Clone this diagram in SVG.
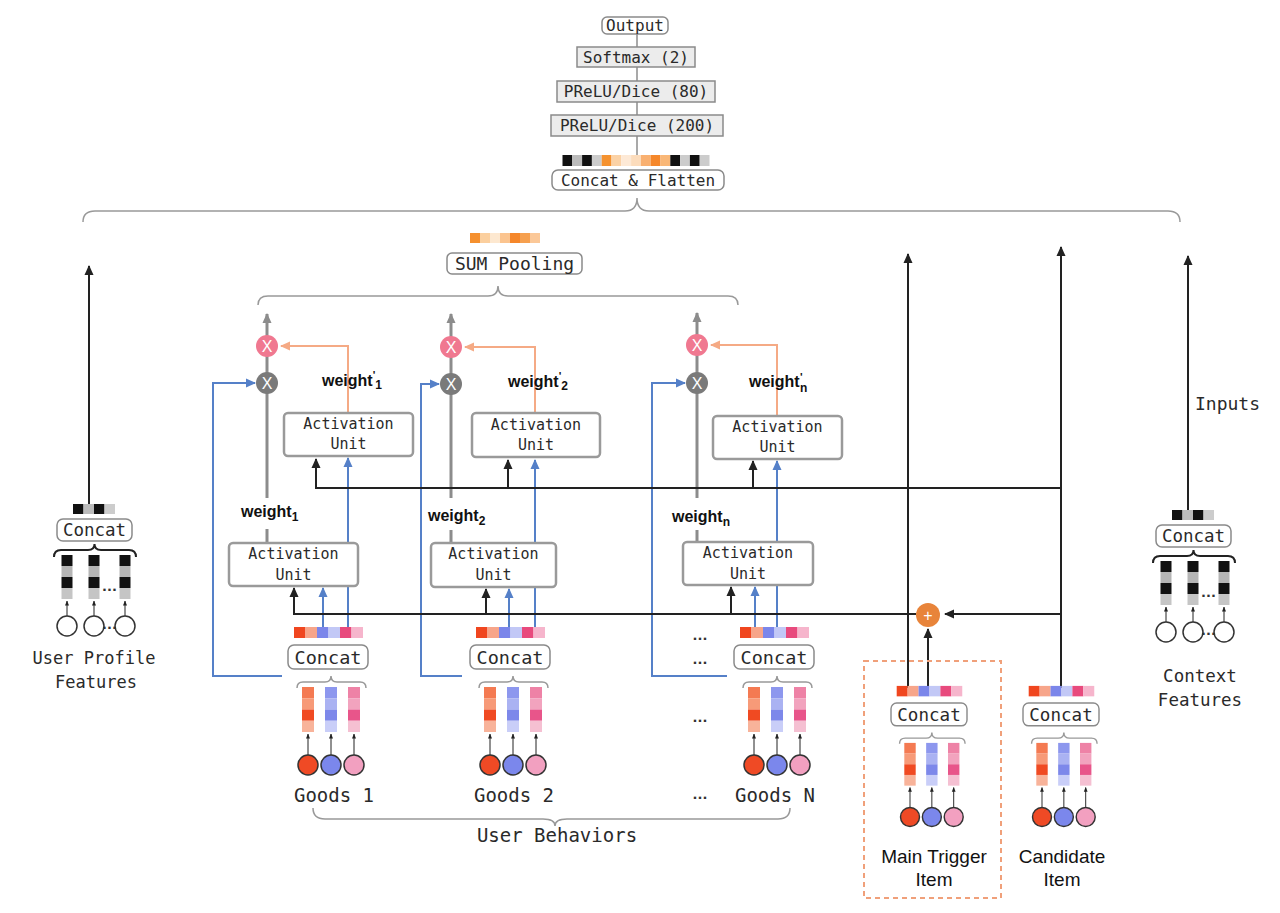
<svg xmlns="http://www.w3.org/2000/svg" width="1280" height="913" viewBox="0 0 1280 913">
<defs>
<style>
.mono{font-family:"DejaVu Sans Mono","Liberation Mono",monospace;fill:#2a2a2a}
.hand{font-family:"Liberation Sans","DejaVu Sans",sans-serif;fill:#111}
.box{fill:#fff;stroke:#8a8a8a;stroke-width:1.5}
.gbox{fill:#ececec;stroke:#8a8a8a;stroke-width:1.5}
.au{fill:#fff;stroke:#9a9a9a;stroke-width:2.5}
.blk{stroke:#222;stroke-width:2;fill:none}
.blu{stroke:#5580c8;stroke-width:2;fill:none}
.org{stroke:#f5aa85;stroke-width:2;fill:none}
.gry{stroke:#8c8c8c;stroke-width:3;fill:none}
.gthin{stroke:#8c8c8c;stroke-width:1.5;fill:none}
.thin{stroke:#222;stroke-width:1;fill:none}
.brace{stroke:#999;stroke-width:1.5;fill:none}
.dbrace{stroke:#222;stroke-width:2;fill:none}
.dot{font-family:"DejaVu Sans",sans-serif;font-size:13px;font-weight:bold;fill:#333}
.xw{font-family:"Liberation Sans",sans-serif;font-size:16px;fill:#fff}
</style>
<marker id="mb" viewBox="0 0 10 10" refX="9" refY="5" markerWidth="5" markerHeight="5" orient="auto"><path d="M0,0.5 L10,5 L0,9.5 z" fill="#222"/></marker>
<marker id="mbl" viewBox="0 0 10 10" refX="9" refY="5" markerWidth="5" markerHeight="5" orient="auto"><path d="M0,0.5 L10,5 L0,9.5 z" fill="#5580c8"/></marker>
<marker id="mo" viewBox="0 0 10 10" refX="9" refY="5" markerWidth="5" markerHeight="5" orient="auto"><path d="M0,0.5 L10,5 L0,9.5 z" fill="#f5aa85"/></marker>
<marker id="mg" viewBox="0 0 10 10" refX="9" refY="5" markerWidth="3.5" markerHeight="3.5" orient="auto"><path d="M0,0.5 L10,5 L0,9.5 z" fill="#8c8c8c"/></marker>
<marker id="ms" viewBox="0 0 10 10" refX="9" refY="5" markerWidth="5" markerHeight="5" orient="auto"><path d="M0,1 L10,5 L0,9 z" fill="#222"/></marker>
<g id="tpl-item">
 <rect x="6" y="-18" width="11.5" height="11" fill="#f0461f"/>
 <rect x="17.5" y="-18" width="11.5" height="11" fill="#f7a58a"/>
 <rect x="29" y="-18" width="11.5" height="11" fill="#7b86ea"/>
 <rect x="40.5" y="-18" width="11.5" height="11" fill="#c2c8f6"/>
 <rect x="52" y="-18" width="11.5" height="11" fill="#e84a7d"/>
 <rect x="63.5" y="-18" width="11.5" height="11" fill="#f6b5cc"/>
 <rect class="box" x="0" y="0" width="80" height="24" rx="6"/>
 <text class="mono" x="40" y="18.5" font-size="18.5" text-anchor="middle">Concat</text>
 <path class="brace" d="M9,43 Q9,37 15,37 L37,37 Q43,37 43,31 Q43,37 49,37 L72,37 Q78,37 78,43"/>
 <rect x="14" y="42" width="12" height="11.25" fill="#f47a52"/>
 <rect x="14" y="53.25" width="12" height="11.25" fill="#f79a78"/>
 <rect x="14" y="64.5" width="12" height="11.25" fill="#f04a22"/>
 <rect x="14" y="75.75" width="12" height="11.25" fill="#f8b39a"/>
 <rect x="37" y="42" width="12" height="11.25" fill="#8d97ee"/>
 <rect x="37" y="53.25" width="12" height="11.25" fill="#aab2f2"/>
 <rect x="37" y="64.5" width="12" height="11.25" fill="#7d88ea"/>
 <rect x="37" y="75.75" width="12" height="11.25" fill="#c9cef8"/>
 <rect x="60" y="42" width="12" height="11.25" fill="#ee82a6"/>
 <rect x="60" y="53.25" width="12" height="11.25" fill="#f2a3be"/>
 <rect x="60" y="64.5" width="12" height="11.25" fill="#e8558a"/>
 <rect x="60" y="75.75" width="12" height="11.25" fill="#f5c0d2"/>
 <path class="thin" d="M20,110 L20,89" marker-end="url(#ms)"/>
 <path class="thin" d="M43,110 L43,89" marker-end="url(#ms)"/>
 <path class="thin" d="M66,110 L66,89" marker-end="url(#ms)"/>
 <circle cx="20" cy="120" r="10" fill="#ef4a25" stroke="#333" stroke-width="1.5"/>
 <circle cx="43" cy="120" r="10" fill="#7b87ec" stroke="#333" stroke-width="1.5"/>
 <circle cx="66" cy="120" r="10" fill="#f2a0c0" stroke="#333" stroke-width="1.5"/>
</g>
<g id="tpl-feat">
 <rect x="16" y="-15" width="10.5" height="10" fill="#111"/>
 <rect x="26.5" y="-15" width="10.5" height="10" fill="#bbb"/>
 <rect x="37" y="-15" width="10.5" height="10" fill="#111"/>
 <rect x="47.5" y="-15" width="10.5" height="10" fill="#ccc"/>
 <rect class="box" x="0" y="0" width="75" height="22" rx="6"/>
 <text class="mono" x="37.5" y="16.5" font-size="17.5" text-anchor="middle">Concat</text>
 <path class="dbrace" d="M-3,38 Q-3,31 4,31 L31,31 Q37.5,31 37.5,25 Q37.5,31 44,31 L72,31 Q79,31 79,38"/>
 <rect x="4.5" y="36" width="11" height="11" fill="#111"/><rect x="4.5" y="47" width="11" height="11" fill="#b5b5b5"/><rect x="4.5" y="58" width="11" height="11" fill="#111"/><rect x="4.5" y="69" width="11" height="11" fill="#c5c5c5"/>
 <rect x="31.5" y="36" width="11" height="11" fill="#111"/><rect x="31.5" y="47" width="11" height="11" fill="#b5b5b5"/><rect x="31.5" y="58" width="11" height="11" fill="#111"/><rect x="31.5" y="69" width="11" height="11" fill="#c5c5c5"/>
 <rect x="62.5" y="36" width="11" height="11" fill="#111"/><rect x="62.5" y="47" width="11" height="11" fill="#b5b5b5"/><rect x="62.5" y="58" width="11" height="11" fill="#111"/><rect x="62.5" y="69" width="11" height="11" fill="#c5c5c5"/>
 <path class="thin" d="M10,97 L10,82" marker-end="url(#ms)"/>
 <path class="thin" d="M37,97 L37,82" marker-end="url(#ms)"/>
 <path class="thin" d="M68,97 L68,82" marker-end="url(#ms)"/>
 <circle cx="10" cy="107" r="10" fill="#fff" stroke="#333" stroke-width="1.5"/>
 <circle cx="37" cy="107" r="10" fill="#fff" stroke="#333" stroke-width="1.5"/>
 <circle cx="68" cy="107" r="10" fill="#fff" stroke="#333" stroke-width="1.5"/>
 <text class="dot" x="52.5" y="72" text-anchor="middle" font-size="10">...</text>
 <text class="dot" x="52.5" y="110" text-anchor="middle" font-size="10">...</text>
</g>
</defs>
<rect width="1280" height="913" fill="#fff"/>

<g id="connectors">
 <path class="gthin" d="M637,34 L637,155"/>
 <path class="gry" d="M267,543 L267,529 M451,543 L451,530 M697,542 L697,530"/>
 <path class="gry" d="M267,498 L267,314" marker-end="url(#mg)"/>
 <path class="gry" d="M451,498 L451,314" marker-end="url(#mg)"/>
 <path class="gry" d="M697,498 L697,313" marker-end="url(#mg)"/>
 <path class="org" d="M348,413 L348,346 L281,346" marker-end="url(#mo)"/>
 <path class="org" d="M535,413 L535,347 L465,347" marker-end="url(#mo)"/>
 <path class="org" d="M777,416 L777,345 L711,345" marker-end="url(#mo)"/>
 <path class="blu" d="M282,676 L213,676 L213,383 L255,383" marker-end="url(#mbl)"/>
 <path class="blu" d="M462,676 L421,676 L421,384 L439,384" marker-end="url(#mbl)"/>
 <path class="blu" d="M727,676 L652,676 L652,383 L685,383" marker-end="url(#mbl)"/>
 <path class="blu" d="M323,627 L323,588" marker-end="url(#mbl)"/>
 <path class="blu" d="M348,627 L348,458" marker-end="url(#mbl)"/>
 <path class="blu" d="M509,627 L509,589" marker-end="url(#mbl)"/>
 <path class="blu" d="M535,627 L535,460" marker-end="url(#mbl)"/>
 <path class="blu" d="M755,627 L755,587" marker-end="url(#mbl)"/>
 <path class="blu" d="M777,627 L777,461" marker-end="url(#mbl)"/>
 <path class="blk" d="M1061,488 L316,488 L316,459" marker-end="url(#mb)"/>
 <path class="blk" d="M508,488 L508,460" marker-end="url(#mb)"/>
 <path class="blk" d="M753,488 L753,461" marker-end="url(#mb)"/>
 <path class="blk" d="M916,614 L294,614 L294,588" marker-end="url(#mb)"/>
 <path class="blk" d="M486,614 L486,589" marker-end="url(#mb)"/>
 <path class="blk" d="M731,614 L731,587" marker-end="url(#mb)"/>
 <path class="blk" d="M908,688 L908,254" marker-end="url(#mb)"/>
 <path class="blk" d="M1061,688 L1061,247" marker-end="url(#mb)"/>
 <path class="blk" d="M1061,614 L945,614" marker-end="url(#mb)"/>
 <path class="blk" d="M928,688 L928,629" marker-end="url(#mb)"/>
 <path class="blk" d="M1188,510 L1188,256" marker-end="url(#mb)"/>
 <path class="blk" d="M89,504 L89,266" marker-end="url(#mb)"/>
 <path class="brace" d="M83,222 Q83,211 95,211 L625,211 Q637,211 637,198 Q637,211 649,211 L1168,211 Q1180,211 1180,222"/>
 <path class="brace" d="M258,305 Q258,296 268,296 L488,296 Q498,296 498,286 Q498,296 508,296 L728,296 Q738,296 738,305"/>
 <path class="brace" d="M313,808 Q313,819 325,819 L543,819 Q555,819 555,826 Q555,819 567,819 L778,819 Q790,819 790,808"/>
</g>

<g id="output"><rect class="box" x="602" y="17" width="66" height="17" rx="5"/><text class="mono" x="635" y="31" font-size="16" text-anchor="middle">Output</text></g>
<g id="softmax"><rect class="gbox" x="577" y="47" width="118" height="20"/><text class="mono" x="636" y="62.5" font-size="16" text-anchor="middle">Softmax (2)</text></g>
<g id="prelu80"><rect class="gbox" x="557" y="81" width="158" height="21"/><text class="mono" x="636" y="97" font-size="16" text-anchor="middle">PReLU/Dice (80)</text></g>
<g id="prelu200"><rect class="gbox" x="551" y="115" width="172" height="21"/><text class="mono" x="637" y="131" font-size="16" text-anchor="middle">PReLU/Dice (200)</text></g>
<g id="concat-flatten">
 <rect x="562.5" y="155" width="9.8" height="11" fill="#111"/><rect x="572.3" y="155" width="9.8" height="11" fill="#bbb"/><rect x="582.1" y="155" width="9.8" height="11" fill="#111"/><rect x="591.9" y="155" width="9.8" height="11" fill="#ccc"/><rect x="601.7" y="155" width="9.8" height="11" fill="#f5922f"/><rect x="611.5" y="155" width="9.8" height="11" fill="#fbd2a6"/><rect x="621.3" y="155" width="9.8" height="11" fill="#fde9d6"/><rect x="631.1" y="155" width="9.8" height="11" fill="#fcdcbc"/><rect x="640.9" y="155" width="9.8" height="11" fill="#f9b070"/><rect x="650.7" y="155" width="9.8" height="11" fill="#f5872a"/><rect x="660.5" y="155" width="9.8" height="11" fill="#f9b777"/><rect x="670.3" y="155" width="9.8" height="11" fill="#111"/><rect x="680.1" y="155" width="9.8" height="11" fill="#ccc"/><rect x="689.9" y="155" width="9.8" height="11" fill="#111"/><rect x="699.7" y="155" width="9.8" height="11" fill="#ccc"/>
 <rect class="box" x="552" y="170" width="172" height="20" rx="6"/><text class="mono" x="638" y="185.5" font-size="16" text-anchor="middle">Concat &amp; Flatten</text>
</g>
<g id="sum-pooling">
 <rect x="470" y="233" width="10" height="10" fill="#f5902f"/><rect x="480" y="233" width="10" height="10" fill="#fbcf9e"/><rect x="490" y="233" width="10" height="10" fill="#fde8d0"/><rect x="500" y="233" width="10" height="10" fill="#fbc48f"/><rect x="510" y="233" width="10" height="10" fill="#f5872a"/><rect x="520" y="233" width="10" height="10" fill="#f6a04f"/><rect x="530" y="233" width="10" height="10" fill="#fbc898"/>
 <rect class="box" x="447" y="253" width="135" height="21" rx="5"/><text class="mono" x="514.5" y="270" font-size="18" text-anchor="middle">SUM Pooling</text>
</g>

<g id="mult-1"><circle cx="267" cy="346" r="11" fill="#f07890"/><text class="xw" x="267" y="351.5" text-anchor="middle">X</text><circle cx="267" cy="383" r="11" fill="#7a7a7a"/><text class="xw" x="267" y="388.5" text-anchor="middle">X</text></g>
<g id="mult-2"><circle cx="451" cy="347" r="11" fill="#f07890"/><text class="xw" x="451" y="352.5" text-anchor="middle">X</text><circle cx="451" cy="384" r="11" fill="#7a7a7a"/><text class="xw" x="451" y="389.5" text-anchor="middle">X</text></g>
<g id="mult-n"><circle cx="697" cy="345" r="11" fill="#f07890"/><text class="xw" x="697" y="350.5" text-anchor="middle">X</text><circle cx="697" cy="383" r="11" fill="#7a7a7a"/><text class="xw" x="697" y="388.5" text-anchor="middle">X</text></g>

<g id="au-top-1"><rect class="au" x="284" y="413" width="129" height="43" rx="4"/><text class="mono" x="348.5" y="429" font-size="15" text-anchor="middle">Activation</text><text class="mono" x="348.5" y="449" font-size="15" text-anchor="middle">Unit</text></g>
<g id="au-top-2"><rect class="au" x="472" y="413" width="128" height="44" rx="4"/><text class="mono" x="536" y="430" font-size="15" text-anchor="middle">Activation</text><text class="mono" x="536" y="450" font-size="15" text-anchor="middle">Unit</text></g>
<g id="au-top-n"><rect class="au" x="713" y="416" width="129" height="43" rx="4"/><text class="mono" x="777.5" y="432" font-size="15" text-anchor="middle">Activation</text><text class="mono" x="777.5" y="452" font-size="15" text-anchor="middle">Unit</text></g>
<g id="au-bot-1"><rect class="au" x="229" y="543" width="129" height="43" rx="4"/><text class="mono" x="293.5" y="559" font-size="15" text-anchor="middle">Activation</text><text class="mono" x="293.5" y="580" font-size="15" text-anchor="middle">Unit</text></g>
<g id="au-bot-2"><rect class="au" x="431" y="543" width="125" height="44" rx="4"/><text class="mono" x="493.5" y="559" font-size="15" text-anchor="middle">Activation</text><text class="mono" x="493.5" y="580" font-size="15" text-anchor="middle">Unit</text></g>
<g id="au-bot-n"><rect class="au" x="683" y="542" width="130" height="43" rx="4"/><text class="mono" x="748" y="558" font-size="15" text-anchor="middle">Activation</text><text class="mono" x="748" y="579" font-size="15" text-anchor="middle">Unit</text></g>

<g id="weights">
 <text class="hand" x="322" y="386" font-size="16" font-weight="bold">weight<tspan font-size="11" dy="-7">'</tspan><tspan font-size="12" dy="10">1</tspan></text>
 <text class="hand" x="508" y="387" font-size="16" font-weight="bold">weight<tspan font-size="11" dy="-7">'</tspan><tspan font-size="12" dy="10">2</tspan></text>
 <text class="hand" x="749" y="387" font-size="16" font-weight="bold">weight</text>
 <text class="hand" x="800" y="381" font-size="11" font-weight="bold">'</text>
 <text class="hand" x="800" y="392" font-size="12" font-weight="bold">n</text>
 <text class="hand" x="241" y="517" font-size="16" font-weight="bold">weight<tspan font-size="12" dy="4">1</tspan></text>
 <text class="hand" x="428" y="521" font-size="16" font-weight="bold">weight<tspan font-size="12" dy="4">2</tspan></text>
 <text class="hand" x="672" y="522" font-size="16" font-weight="bold">weight<tspan font-size="12" dy="4">n</tspan></text>
</g>

<g id="goods-1"><use href="#tpl-item" transform="translate(288,645)"/><text class="mono" x="334" y="802" font-size="19" text-anchor="middle">Goods 1</text></g>
<g id="goods-2"><use href="#tpl-item" transform="translate(470,645)"/><text class="mono" x="514" y="802" font-size="19" text-anchor="middle">Goods 2</text></g>
<g id="goods-n"><use href="#tpl-item" transform="translate(734,645)"/><text class="mono" x="775" y="802" font-size="19" text-anchor="middle">Goods N</text></g>
<g id="ellipses">
 <text class="dot" x="700" y="640" text-anchor="middle">...</text>
 <text class="dot" x="700" y="664" text-anchor="middle">...</text>
 <text class="dot" x="700" y="722" text-anchor="middle">...</text>
 <text class="dot" x="700" y="799" text-anchor="middle">...</text>
</g>
<g id="user-behaviors-label"><text class="mono" x="557" y="842" font-size="19" text-anchor="middle">User Behaviors</text></g>

<g id="add"><circle cx="928" cy="615" r="12" fill="#e8843a"/><text x="928" y="620.5" font-family="Liberation Sans,sans-serif" font-size="16" fill="#fff" text-anchor="middle">+</text></g>

<g id="main-trigger">
 <rect x="864" y="661" width="137" height="237" fill="none" stroke="#f0a07a" stroke-width="2" stroke-dasharray="5,4"/>
 <use href="#tpl-item" transform="translate(891,703) scale(0.95)"/>
 <text class="hand" x="934" y="863" font-size="19" text-anchor="middle">Main Trigger</text>
 <text class="hand" x="934" y="886" font-size="19" text-anchor="middle">Item</text>
</g>
<g id="candidate">
 <use href="#tpl-item" transform="translate(1023,703) scale(0.95)"/>
 <text class="hand" x="1062" y="863" font-size="19" text-anchor="middle">Candidate</text>
 <text class="hand" x="1062" y="886" font-size="19" text-anchor="middle">Item</text>
</g>
<g id="user-profile">
 <use href="#tpl-feat" transform="translate(57,519)"/>
 <text class="mono" x="94" y="664" font-size="17" text-anchor="middle">User Profile</text>
 <text class="mono" x="96" y="688" font-size="17" text-anchor="middle">Features</text>
</g>
<g id="context">
 <use href="#tpl-feat" transform="translate(1156,525)"/>
 <text class="mono" x="1200" y="682" font-size="17.5" text-anchor="middle">Context</text>
 <text class="mono" x="1200" y="706" font-size="17.5" text-anchor="middle">Features</text>
 <text class="mono" x="1195" y="410" font-size="18">Inputs</text>
</g>
</svg>
